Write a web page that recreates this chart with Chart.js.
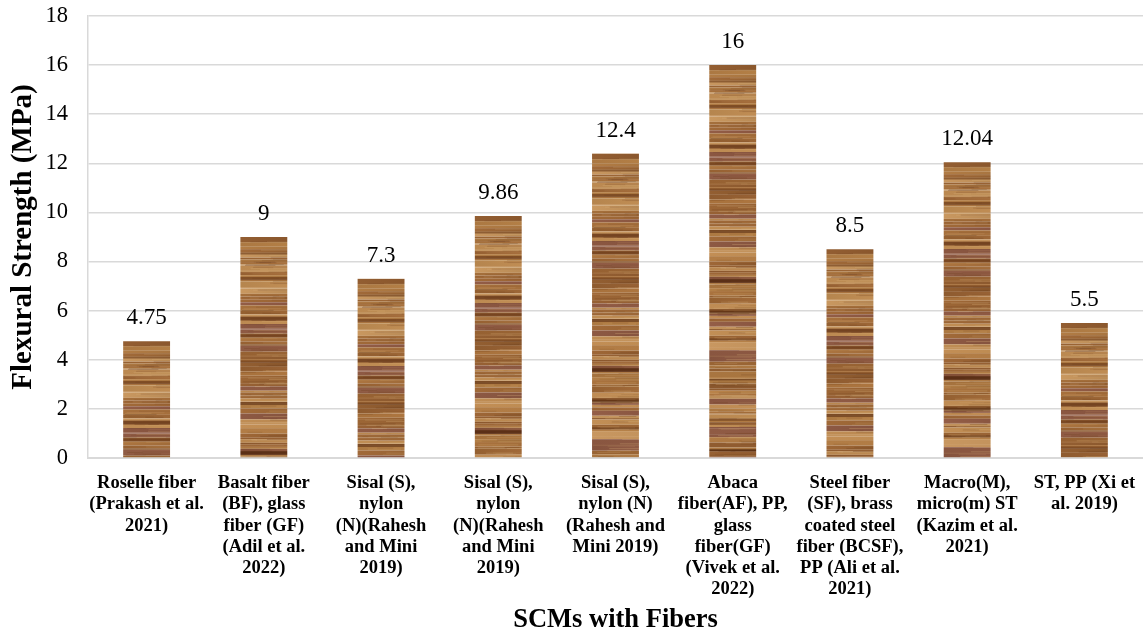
<!DOCTYPE html>
<html>
<head>
<meta charset="utf-8">
<script src="https://cdn.jsdelivr.net/npm/chart.js@4/dist/chart.umd.min.js"></script>
<style>
  html, body { margin: 0; padding: 0; background: #fff; }
  #wrap { width: 1143px; height: 633px; }
</style>
</head>
<body>
<div id="wrap"><canvas id="c" width="1143" height="633"></canvas></div>
<script>
const categories = [
  ["Roselle fiber", "(Prakash et al.", "2021)"],
  ["Basalt fiber", "(BF), glass", "fiber (GF)", "(Adil et al.", "2022)"],
  ["Sisal (S),", "nylon", "(N)(Rahesh", "and Mini", "2019)"],
  ["Sisal (S),", "nylon", "(N)(Rahesh", "and Mini", "2019)"],
  ["Sisal (S),", "nylon (N)", "(Rahesh and", "Mini 2019)"],
  ["Abaca", "fiber(AF), PP,", "glass", "fiber(GF)", "(Vivek et al.", "2022)"],
  ["Steel fiber", "(SF), brass", "coated steel", "fiber (BCSF),", "PP (Ali et al.", "2021)"],
  ["Macro(M),", "micro(m) ST", "(Kazim et al.", "2021)"],
  ["ST, PP (Xi et", "al. 2019)"]
];
const flexuralStrength = [4.75, 9, 7.3, 9.86, 12.4, 16, 8.5, 12.04, 5.5];
const valueLabels = ["4.75", "9", "7.3", "9.86", "12.4", "16", "8.5", "12.04", "5.5"];

const SERIF = '"Liberation Serif", "Times New Roman", serif';

// Wood-grain tile: long horizontal streaks with a few darker grain lines (seeded, so it is stable)
function makeWoodTile() {
  const w = 48, h = 460;
  const raw = document.createElement('canvas');
  raw.width = w; raw.height = h;
  const g = raw.getContext('2d');
  let s = 7741;
  const rnd = () => { s = (s * 1103515245 + 12345) & 0x7fffffff; return s / 0x7fffffff; };
  const palette = [
    [166, 112, 60], [178, 126, 70], [156, 102, 54], [188, 138, 82],
    [144, 92, 48], [172, 120, 66], [140, 88, 66], [194, 146, 92]
  ];
  // tonal bands, each spanning the full width
  let y = 0;
  while (y < h) {
    const bh = 1 + rnd() * 5;
    const c = palette[Math.floor(rnd() * palette.length)];
    const grad = g.createLinearGradient(0, 0, w, 0);
    const j1 = (rnd() - 0.5) * 16, j2 = (rnd() - 0.5) * 16;
    grad.addColorStop(0, `rgb(${c[0] + j1},${c[1] + j1 * 0.8},${c[2] + j1 * 0.6})`);
    grad.addColorStop(1, `rgb(${c[0] + j2},${c[1] + j2 * 0.8},${c[2] + j2 * 0.6})`);
    g.fillStyle = grad;
    g.fillRect(0, y, w, bh);
    y += bh;
  }
  // fine streaks of partial width
  for (let i = 0; i < 260; i++) {
    g.globalAlpha = 0.12 + rnd() * 0.22;
    g.fillStyle = rnd() < 0.5 ? '#6e4020' : '#d6ae78';
    g.fillRect(rnd() * w * 0.7, rnd() * h, w * (0.3 + rnd() * 0.7), 1);
  }
  // occasional dark grain lines
  y = 14 + rnd() * 8;
  while (y < h) {
    g.globalAlpha = 0.45 + rnd() * 0.4;
    g.fillStyle = rnd() < 0.6 ? '#52280e' : '#663616';
    g.fillRect(0, y, w, 1.5 + rnd() * 2.5);
    y += 16 + rnd() * 36;
  }
  g.globalAlpha = 1;
  const tile = document.createElement('canvas');
  tile.width = w; tile.height = h;
  const t = tile.getContext('2d');
  t.filter = 'blur(0.7px)';
  t.drawImage(raw, 0, 0);
  t.filter = 'none';
  return tile;
}

const ctx = document.getElementById('c').getContext('2d');
const woodTile = makeWoodTile();

// each bar gets the grain starting at its own top edge
function barFill(context) {
  const chart = context.chart;
  if (!chart.scales || !chart.scales.y || context.raw === undefined) return '#a5703f';
  const yTop = chart.scales.y.getPixelForValue(context.raw);
  const xMid = chart.scales.x.getPixelForValue(context.dataIndex);
  const pat = chart.ctx.createPattern(woodTile, 'repeat');
  pat.setTransform(new DOMMatrix().translate(Math.round(xMid - woodTile.width / 2), Math.round(yTop)));
  return pat;
}

const valueLabelPlugin = {
  id: 'valueLabels',
  afterDatasetsDraw(chart) {
    const c = chart.ctx;
    const meta = chart.getDatasetMeta(0);
    c.save();
    c.font = '23px ' + SERIF;
    c.fillStyle = '#000';
    c.textAlign = 'center';
    c.textBaseline = 'alphabetic';
    meta.data.forEach((bar, i) => {
      c.fillText(valueLabels[i], bar.x, bar.y - 17);
    });
    c.restore();
  }
};

new Chart(ctx, {
  type: 'bar',
  data: {
    labels: categories,
    datasets: [{
      data: flexuralStrength,
      backgroundColor: barFill,
      borderWidth: 0,
      categoryPercentage: 1,
      barPercentage: 0.4
    }]
  },
  options: {
    responsive: false,
    animation: false,
    devicePixelRatio: 1,
    layout: { padding: { top: 16, right: 0, left: 0, bottom: 0 } },
    plugins: { legend: { display: false }, tooltip: { enabled: false } },
    scales: {
      x: {
        offset: true,
        grid: { display: false },
        border: { display: true, color: '#d9d9d9', width: 2 },
        ticks: {
          color: '#000',
          padding: 7,
          maxRotation: 0,
          autoSkip: false,
          font: { family: SERIF, size: 18.5, weight: 'bold', lineHeight: 1.14 }
        },
        title: {
          display: true,
          text: 'SCMs with Fibers',
          color: '#000',
          padding: { top: 0, bottom: 0 },
          font: { family: SERIF, size: 26.5, weight: 'bold', lineHeight: 1.0 }
        },
        afterFit(scale) {
          scale.height = 175;
          scale.paddingLeft = 0; scale.paddingRight = 0;
        }
      },
      y: {
        min: 0,
        max: 18,
        ticks: {
          stepSize: 2,
          color: '#000',
          padding: 20,
          font: { family: SERIF, size: 22.5 }
        },
        grid: { color: '#d9d9d9', lineWidth: 1.5, drawTicks: false },
        border: { display: true, color: '#d9d9d9', width: 1.5 },
        title: {
          display: true,
          text: 'Flexural Strength (MPa)',
          color: '#000',
          padding: { top: 6, bottom: 0 },
          font: { family: SERIF, size: 29, weight: 'bold', lineHeight: 1.2 }
        },
        afterFit(scale) {
          scale.width = 88;
          scale.paddingTop = 0; scale.paddingBottom = 0;
        }
      }
    }
  },
  plugins: [valueLabelPlugin]
});
</script>
</body>
</html>
